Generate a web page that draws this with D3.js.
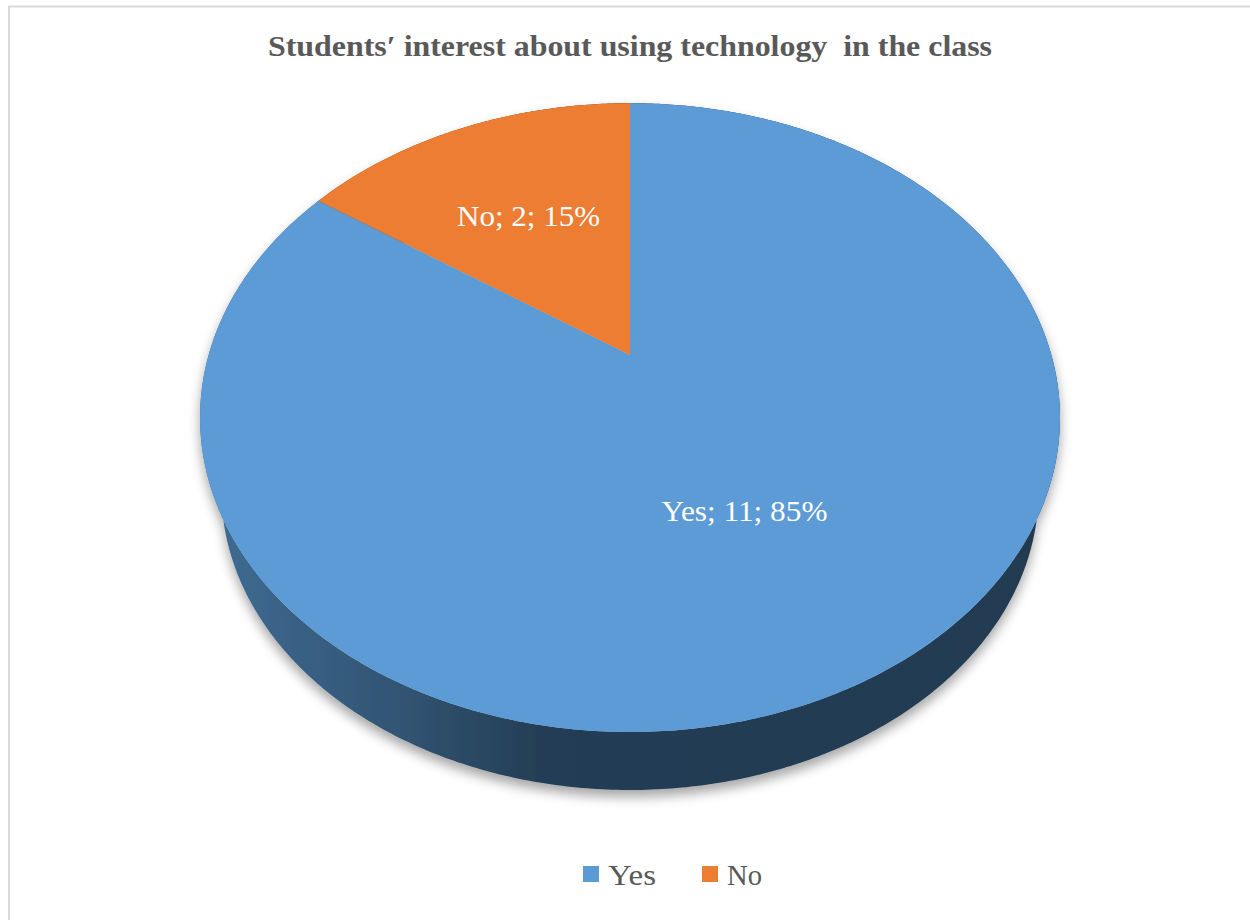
<!DOCTYPE html>
<html>
<head>
<meta charset="utf-8">
<script src="https://cdn.jsdelivr.net/npm/d3@7"></script>
<style>
  html, body { margin: 0; padding: 0; background: #ffffff; }
  svg { display: block; }
  svg text { font-family: "Liberation Serif", "DejaVu Serif", serif; }
</style>
</head>
<body>
<script>
// ---- data ----
const categories = ["Yes", "No"];
const values = [11, 2];
const colors = ["#5b9bd5", "#ed7d31"];
const titleText = "Students\u2032 interest about using technology  in the class";

// ---- layout ----
const W = 1250, H = 920;
const apex = [630, 355];            // projected centre of the pie's top face
const A = 421.4, B = 302, K = 0.199; // perspective projection constants
const ellC = [630, 417.5];          // centre of the projected outline
const sideScale = 0.95, sideDrop = 73.7;
const labelRadius = [0.53, 0.57];
const labelWidth = [166, 143];
const legendX = [583, 702];
const legendTextWidth = [48, 35];

const svg = d3.select("body").append("svg").attr("width", W).attr("height", H);
const defs = svg.append("defs");

// border
svg.append("path").attr("d", `M9,${H} V6.5 H${W}`).attr("fill", "none")
  .attr("stroke", "#d9d9d9").attr("stroke-width", 2);

// title
svg.append("text")
  .attr("x", 630).attr("y", 56)
  .attr("text-anchor", "middle")
  .attr("font-weight", "bold").attr("font-size", 29.5)
  .attr("fill", "#595959")
  .attr("textLength", 724).attr("lengthAdjust", "spacingAndGlyphs")
  .style("white-space", "pre")
  .text(titleText);

// projection of a disk point (angle clockwise from 12 o'clock, radius fraction r)
function proj(a, r) {
  const x = r * Math.sin(a), z = -r * Math.cos(a);
  const den = 1 - K * z;
  return [apex[0] + A * x / den, apex[1] + B * z / den];
}
function bottom(p) {
  return [ellC[0] + sideScale * (p[0] - ellC[0]), ellC[1] + sideScale * (p[1] - ellC[1]) + sideDrop];
}
function arcPoints(a0, a1) {
  const n = Math.max(2, Math.ceil(Math.abs(a1 - a0) / 0.01));
  return d3.range(n + 1).map(i => proj(a0 + (a1 - a0) * i / n, 1));
}

const pie = d3.pie().sort(null).value(d => d)(values);
const total = d3.sum(values);
const pct = d3.format(".0%");
const line = d3.line();

// soft shadow
const f = defs.append("filter").attr("id", "shadow")
  .attr("x", "-10%").attr("y", "-10%").attr("width", "120%").attr("height", "130%");
f.append("feDropShadow").attr("dx", 0).attr("dy", 7).attr("stdDeviation", 6)
  .attr("flood-color", "#000").attr("flood-opacity", 0.35);

// side shading gradients
pie.forEach((s, i) => {
  const c = d3.color(colors[i]);
  const g = defs.append("linearGradient").attr("id", "side" + i)
    .attr("gradientUnits", "userSpaceOnUse")
    .attr("x1", 200).attr("x2", 1060).attr("y1", 0).attr("y2", 0);
  [[0, 1.0], [0.25, 1.8], [0.4, 2.6], [1, 2.7]].forEach(([o, k]) =>
    g.append("stop").attr("offset", o).attr("stop-color", c.darker(k).formatHex()));
});

const pieG = svg.append("g").attr("filter", "url(#shadow)");

// side walls
pie.forEach((s, i) => {
  const top = arcPoints(s.startAngle, s.endAngle);
  const bot = top.map(bottom).reverse();
  pieG.append("path").attr("d", line(top.concat(bot)) + "Z")
    .attr("fill", `url(#side${i})`);
});

// top faces
pie.forEach((s, i) => {
  const pts = [apex].concat(arcPoints(s.startAngle, s.endAngle));
  pieG.append("path").attr("d", line(pts) + "Z").attr("fill", colors[i]);
});

// data labels
pie.forEach((s, i) => {
  const p = proj((s.startAngle + s.endAngle) / 2, labelRadius[i]);
  svg.append("text")
    .attr("x", p[0]).attr("y", p[1] + 10)
    .attr("text-anchor", "middle")
    .attr("font-size", 28.5).attr("fill", "#ffffff")
    .attr("textLength", labelWidth[i]).attr("lengthAdjust", "spacingAndGlyphs")
    .text(`${categories[i]}; ${values[i]}; ${pct(values[i] / total)}`);
});

// legend
const lg = svg.append("g");
categories.forEach((c, i) => {
  lg.append("rect").attr("x", legendX[i]).attr("y", 866).attr("width", 16).attr("height", 16)
    .attr("fill", colors[i]);
  lg.append("text").attr("x", legendX[i] + 25).attr("y", 885)
    .attr("font-size", 29).attr("fill", "#595959")
    .attr("textLength", legendTextWidth[i]).attr("lengthAdjust", "spacingAndGlyphs")
    .text(c);
});
</script>
</body>
</html>
